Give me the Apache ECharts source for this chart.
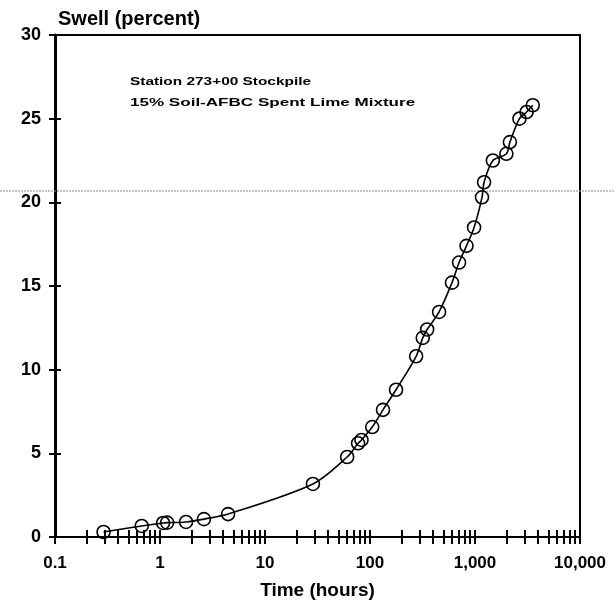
<!DOCTYPE html>
<html>
<head>
<meta charset="utf-8">
<script src="https://cdn.jsdelivr.net/npm/echarts@6/dist/echarts.min.js"></script>
<style>html,body{margin:0;padding:0;background:#fff;}#c{width:615px;height:601px;}</style>
</head>
<body>
<div id="c"></div>
<script>
// Data
var timeHours = [0.29, 0.67, 1.07, 1.17, 1.77, 2.62, 4.45, 28.6, 60.6, 77, 83, 105, 133, 177, 275, 318, 350, 455, 604, 705, 830, 980, 1166, 1220, 1480, 1990, 2150, 2650, 3100, 3550];
var swellPct = [0.3, 0.66, 0.84, 0.86, 0.9, 1.07, 1.37, 3.17, 4.78, 5.6, 5.8, 6.57, 7.6, 8.8, 10.8, 11.9, 12.4, 13.45, 15.2, 16.4, 17.4, 18.5, 20.3, 21.2, 22.5, 22.9, 23.6, 25.0, 25.4, 25.8];
var xMajorTicks = [0.1, 1, 10, 100, 1000, 10000];
var xTickLabels = ['0.1', '1', '10', '100', '1,000', '10,000'];
var xMinorMultipliers = [2, 3, 4, 5, 6, 7, 8, 9];
var yTicks = [0, 5, 10, 15, 20, 25, 30];
var annotationLines = ['Station 273+00 Stockpile', '15% Soil-AFBC Spent Lime Mixture'];

var allXTicks = xMajorTicks.slice();
for (var i = 0; i < xMajorTicks.length - 1; i++) {
  for (var j = 0; j < xMinorMultipliers.length; j++) {
    allXTicks.push(+(xMajorTicks[i] * xMinorMultipliers[j]).toPrecision(6));
  }
}
var points = timeHours.map(function (t, k) { return [t, swellPct[k]]; });

var font = 'Liberation Sans, Arial, Helvetica, sans-serif';
var chart = echarts.init(document.getElementById('c'));
chart.setOption({
  animation: false,
  backgroundColor: '#fff',
  grid: { left: 55, right: 35, top: 35, bottom: 64, containLabel: false, outerBoundsMode: 'none', show: true, borderColor: '#000', borderWidth: 2, backgroundColor: 'transparent' },
  title: {
    text: 'Swell (percent)', left: 53, top: 4,
    textStyle: { fontFamily: font, fontSize: 20, fontWeight: 'bold', color: '#000' }
  },
  xAxis: [{
    type: 'log', logBase: 10, min: 0.1, max: 10000,
    name: 'Time (hours)', nameLocation: 'middle', nameGap: 44,
    nameTextStyle: { fontFamily: font, fontSize: 19, fontWeight: 'bold', color: '#000' },
    axisLine: { show: true, lineStyle: { color: '#000', width: 2 } },
    axisTick: { show: true, inside: true, length: 7, customValues: allXTicks, lineStyle: { color: '#000', width: 2 } },
    axisLabel: {
      customValues: xMajorTicks, margin: 18,
      fontFamily: font, fontSize: 17, fontWeight: 'bold', color: '#000',
      formatter: function (v) { var idx = xMajorTicks.indexOf(+v); return idx >= 0 ? xTickLabels[idx] : ''; }
    },
    splitLine: { show: false }, minorTick: { show: false }
  }, {
    type: 'log', logBase: 10, min: 0.1, max: 10000, position: 'bottom', offset: 0,
    axisLine: { show: false },
    axisTick: { show: true, inside: false, length: 7, customValues: allXTicks, lineStyle: { color: '#000', width: 2 } },
    axisLabel: { show: false }, splitLine: { show: false }
  }],
  yAxis: [{
    type: 'value', min: 0, max: 30, interval: 5,
    axisLine: { show: true, lineStyle: { color: '#000', width: 3 } },
    axisTick: { show: true, inside: false, length: 6, lineStyle: { color: '#000', width: 2 } },
    axisLabel: { margin: 14, fontFamily: font, fontSize: 18, fontWeight: 'bold', color: '#000' },
    splitLine: { show: false }
  }, {
    type: 'value', min: 0, max: 30, interval: 5, position: 'left', offset: 0,
    axisLine: { show: false },
    axisTick: { show: true, inside: true, length: 6, lineStyle: { color: '#000', width: 2 } },
    axisLabel: { show: false }, splitLine: { show: false }
  }],
  graphic: [
    { type: 'line', shape: { x1: 0, y1: 191, x2: 615, y2: 191 }, style: { stroke: '#888', lineWidth: 1, lineDash: [2, 1] }, z: 1 },
    { type: 'text', x: 130, y: 76, scaleX: 1.4, style: { text: annotationLines[0], font: 'bold 11px ' + font, fill: '#000' } },
    { type: 'text', x: 130, y: 97, scaleX: 1.55, style: { text: annotationLines[1], font: 'bold 11px ' + font, fill: '#000' } }
  ],
  series: [{
    type: 'line', xAxisIndex: 0, yAxisIndex: 0,
    data: points, smooth: 0.3,
    symbol: 'circle', symbolSize: 13,
    lineStyle: { color: '#000', width: 1.6 },
    itemStyle: { color: 'rgba(0,0,0,0)', borderColor: '#000', borderWidth: 1.6 },
    z: 5
  }]
});
</script>
</body>
</html>
